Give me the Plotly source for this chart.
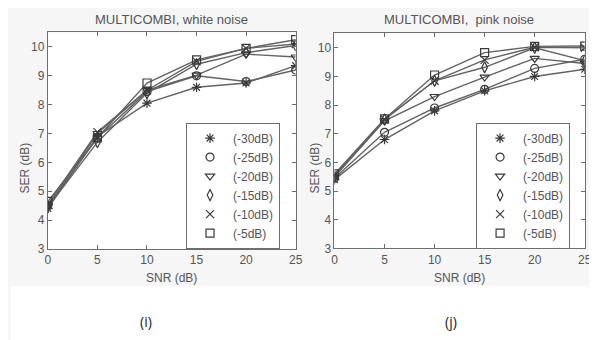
import plotly.graph_objects as go

snr = [0, 5, 10, 15, 20, 25]
labels = ["(-30dB)", "(-25dB)", "(-20dB)", "(-15dB)", "(-10dB)", "(-5dB)"]
symbols = ["asterisk-open", "circle-open", "triangle-down-open", "diamond-tall-open", "x-thin-open", "square-open"]

white_m30 = [4.40, 6.90, 8.05, 8.60, 8.75, 9.35]
white_m25 = [4.50, 6.85, 8.45, 9.00, 8.80, 9.20]
white_m20 = [4.50, 7.00, 8.50, 9.02, 9.75, 9.65]
white_m15 = [4.45, 6.70, 8.40, 9.40, 9.80, 10.05]
white_m10 = [4.55, 7.05, 8.50, 9.50, 9.95, 10.10]
white_m5 = [4.65, 6.85, 8.75, 9.55, 9.95, 10.25]

pink_m30 = [5.40, 6.80, 7.80, 8.50, 9.00, 9.25]
pink_m25 = [5.45, 7.05, 7.90, 8.55, 9.28, 9.60]
pink_m20 = [5.50, 7.45, 8.30, 8.98, 9.63, 9.45]
pink_m15 = [5.50, 7.50, 8.85, 9.32, 10.00, 9.55]
pink_m10 = [5.55, 7.50, 8.85, 9.58, 10.02, 10.00]
pink_m5 = [5.60, 7.52, 9.05, 9.83, 10.05, 10.06]

white = [white_m30, white_m25, white_m20, white_m15, white_m10, white_m5]
pink = [pink_m30, pink_m25, pink_m20, pink_m15, pink_m10, pink_m5]

W, H = 597, 340
FONT = "Liberation Sans, Arial, sans-serif"
LINE_C = "#636363"
MARK_C = "#3a3a3a"
AX_C = "#6e6e6e"
TXT_C = "#555555"

fig = go.Figure()

def add_panel(data, xa, ya, legend_name):
    for vals in data:
        fig.add_trace(go.Scatter(x=snr, y=vals, mode="lines", xaxis=xa, yaxis=ya,
                                 line=dict(color=LINE_C, width=1.4), showlegend=False,
                                 hoverinfo="skip"))
    for vals, lab, sym in zip(data, labels, symbols):
        fig.add_trace(go.Scatter(x=snr, y=vals, mode="markers", xaxis=xa, yaxis=ya,
                                 name=lab, legend=legend_name,
                                 marker=dict(symbol=sym, size=8, color=MARK_C,
                                             line=dict(color=MARK_C, width=1.2))))

add_panel(white, "x", "y", "legend")
add_panel(pink, "x2", "y2", "legend2")

def px_x(v):
    return v / W

def px_y(v):
    return 1 - v / H

axis_common = dict(showline=True, linecolor=AX_C, linewidth=1, mirror="ticks",
                   ticks="inside", ticklen=4, tickcolor=AX_C, showgrid=False, zeroline=False,
                   tickfont=dict(family=FONT, size=12, color=TXT_C))

xd1 = [px_x(37.5), px_x(289.5)]
xd2 = [px_x(329), px_x(583.5)]
yd1 = [px_y(246), px_y(25)]
yd2 = [px_y(245.5), px_y(26)]

leg_common = dict(bgcolor="white", bordercolor=AX_C, borderwidth=1,
                  font=dict(family=FONT, size=12, color=TXT_C),
                  xanchor="left", yanchor="top", tracegroupgap=0, itemwidth=36)

fig.update_layout(
    width=W, height=H,
    margin=dict(l=0, r=0, t=0, b=0),
    paper_bgcolor="#f6f6f6",
    plot_bgcolor="white",
    xaxis=dict(domain=xd1, range=[0, 25], tickvals=snr, anchor="y", **axis_common),
    yaxis=dict(domain=yd1, range=[3, 10.5], tickvals=[3, 4, 5, 6, 7, 8, 9, 10], anchor="x", **axis_common),
    xaxis2=dict(domain=xd2, range=[0, 25], tickvals=snr, anchor="y2", **axis_common),
    yaxis2=dict(domain=yd2, range=[3, 10.5], tickvals=[3, 4, 5, 6, 7, 8, 9, 10], anchor="x2", **axis_common),
    legend=dict(x=px_x(178), y=px_y(117), **leg_common),
    legend2=dict(x=px_x(473), y=px_y(117), **leg_common),
    shapes=[dict(type="rect", xref="paper", yref="paper", x0=0, x1=1, y0=0, y1=px_y(284),
                 fillcolor="white", line=dict(width=0), layer="below")],
)

ann = []
def text(x, y, s, size=12, color=TXT_C, angle=0, family=FONT):
    ann.append(dict(x=px_x(x), y=px_y(y), xref="paper", yref="paper", text=s, showarrow=False,
                    xanchor="center", yanchor="middle", textangle=angle,
                    font=dict(family=family, size=size, color=color)))

text(163, 12, "MULTICOMBI, white noise", size=13)
text(456, 12, "MULTICOMBI,  pink noise", size=13)
text(163, 276, "SNR (dB)")
text(456, 276, "SNR (dB)")
text(14, 163, "SER (dB)", angle=-90)
text(309, 163, "SER (dB)", angle=-90)
text(137, 320, "(i)", size=14, color="#222222", family="Open Sans, sans-serif")
text(447, 320, "(j)", size=14, color="#222222", family="Open Sans, sans-serif")
fig.update_layout(annotations=ann)

fig.write_html("out.html")
